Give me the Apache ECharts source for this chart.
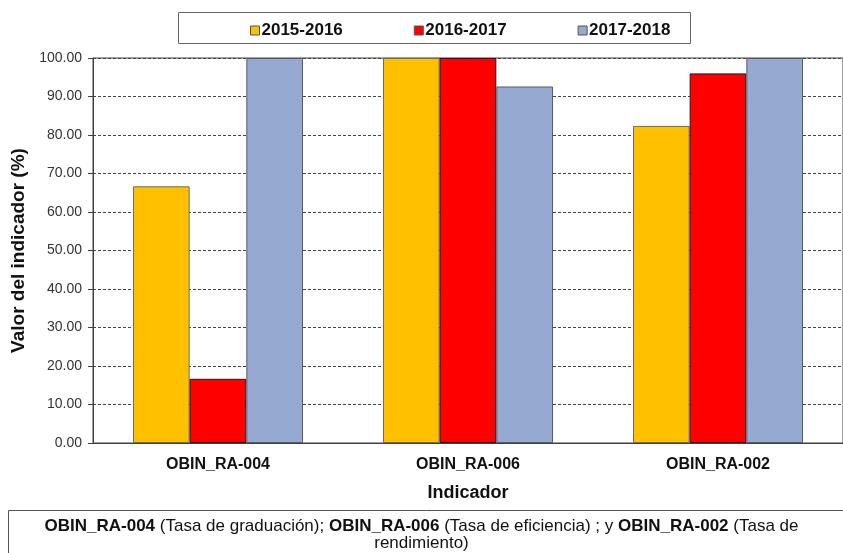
<!DOCTYPE html>
<html>
<head>
<meta charset="utf-8">
<script src="https://cdn.jsdelivr.net/npm/echarts@6/dist/echarts.min.js"></script>
<style>
  html, body { margin: 0; padding: 0; background: #fff; }
  #chart { width: 843px; height: 553px; }
</style>
</head>
<body>
<div id="chart"></div>
<script>
const categories = ['OBIN_RA-004', 'OBIN_RA-006', 'OBIN_RA-002']
const seriesNames = ['2015-2016', '2016-2017', '2017-2018']
const values2015 = [66.67, 100, 82.35]
const values2016 = [16.67, 100, 96.0]
const values2017 = [100, 92.6, 100]
const yTicks = { min: 0, max: 100, interval: 10 }

const colors = ['#ffc000', '#ff0000', '#95a9d1']
const borders = ['#6b6b6b', '#1a1a1a', '#555c6b']
const sans = '"Liberation Sans", Arial, sans-serif'

const chart = echarts.init(document.getElementById('chart'))

function barSeries(name, data, i) {
  return {
    name: name,
    type: 'bar',
    data: data,
    barGap: '0%',
    barCategoryGap: '32%',
    itemStyle: { color: colors[i], borderColor: borders[i], borderWidth: 1 },
    emphasis: { disabled: true }
  }
}

// footnote, one text element per line so both stay centred
const noteStyle = {
  fontFamily: sans, fontSize: 17, fill: '#111',
  rich: { b: { fontFamily: sans, fontWeight: 'bold', fontSize: 17, fill: '#111' } }
}

chart.setOption({
  animation: false,
  color: colors,
  grid: {
    left: 93, right: 0, top: 58, bottom: 110,
    show: true, borderColor: '#404040', borderWidth: 1
  },
  legend: {
    left: 245, top: 17,
    icon: 'rect', itemWidth: 9, itemHeight: 9, itemGap: 71,
    textStyle: { fontFamily: sans, fontWeight: 'bold', fontSize: 17, color: '#111', padding: [0, 0, 0, -3] },
    itemStyle: { borderColor: '#555', borderWidth: 1 },
    data: seriesNames
  },
  xAxis: {
    type: 'category',
    data: categories,
    name: 'Indicador',
    nameLocation: 'middle',
    nameGap: 41,
    nameTextStyle: { fontFamily: sans, fontWeight: 'bold', fontSize: 18, color: '#111' },
    axisLine: { lineStyle: { color: '#404040' } },
    axisTick: { show: false },
    axisLabel: { fontFamily: sans, fontWeight: 'bold', fontSize: 16, color: '#111', margin: 14 }
  },
  yAxis: {
    type: 'value',
    min: yTicks.min, max: yTicks.max, interval: yTicks.interval,
    name: 'Valor del indicador (%)',
    nameLocation: 'middle',
    nameGap: 57,
    nameTextStyle: { fontFamily: sans, fontWeight: 'bold', fontSize: 19, color: '#111' },
    axisLine: { show: true, lineStyle: { color: '#404040' } },
    axisTick: { show: true, length: 5, lineStyle: { color: '#404040' } },
    axisLabel: {
      fontFamily: sans, fontSize: 14, color: '#333', margin: 11,
      formatter: v => v.toFixed(2)
    },
    splitLine: { lineStyle: { color: '#444', type: [3, 2], width: 1 } }
  },
  graphic: [
    {
      type: 'rect', left: 178, top: 12, silent: true, z: -1,
      shape: { width: 512, height: 31 },
      style: { fill: '#fff', stroke: '#666', lineWidth: 1 }
    },
    {
      type: 'rect', left: 8, top: 510, silent: true,
      shape: { width: 850, height: 50 },
      style: { fill: '#fff', stroke: '#555', lineWidth: 1 }
    },
    {
      type: 'text', left: 'center', top: 518, silent: true,
      style: Object.assign({
        text: '{b|OBIN_RA-004} (Tasa de graduación); {b|OBIN_RA-006} (Tasa de eficiencia) ; y {b|OBIN_RA-002} (Tasa de'
      }, noteStyle)
    },
    {
      type: 'text', left: 'center', top: 535, silent: true,
      style: Object.assign({ text: 'rendimiento)' }, noteStyle)
    }
  ],
  series: [
    barSeries(seriesNames[0], values2015, 0),
    barSeries(seriesNames[1], values2016, 1),
    barSeries(seriesNames[2], values2017, 2)
  ]
})
</script>
</body>
</html>
